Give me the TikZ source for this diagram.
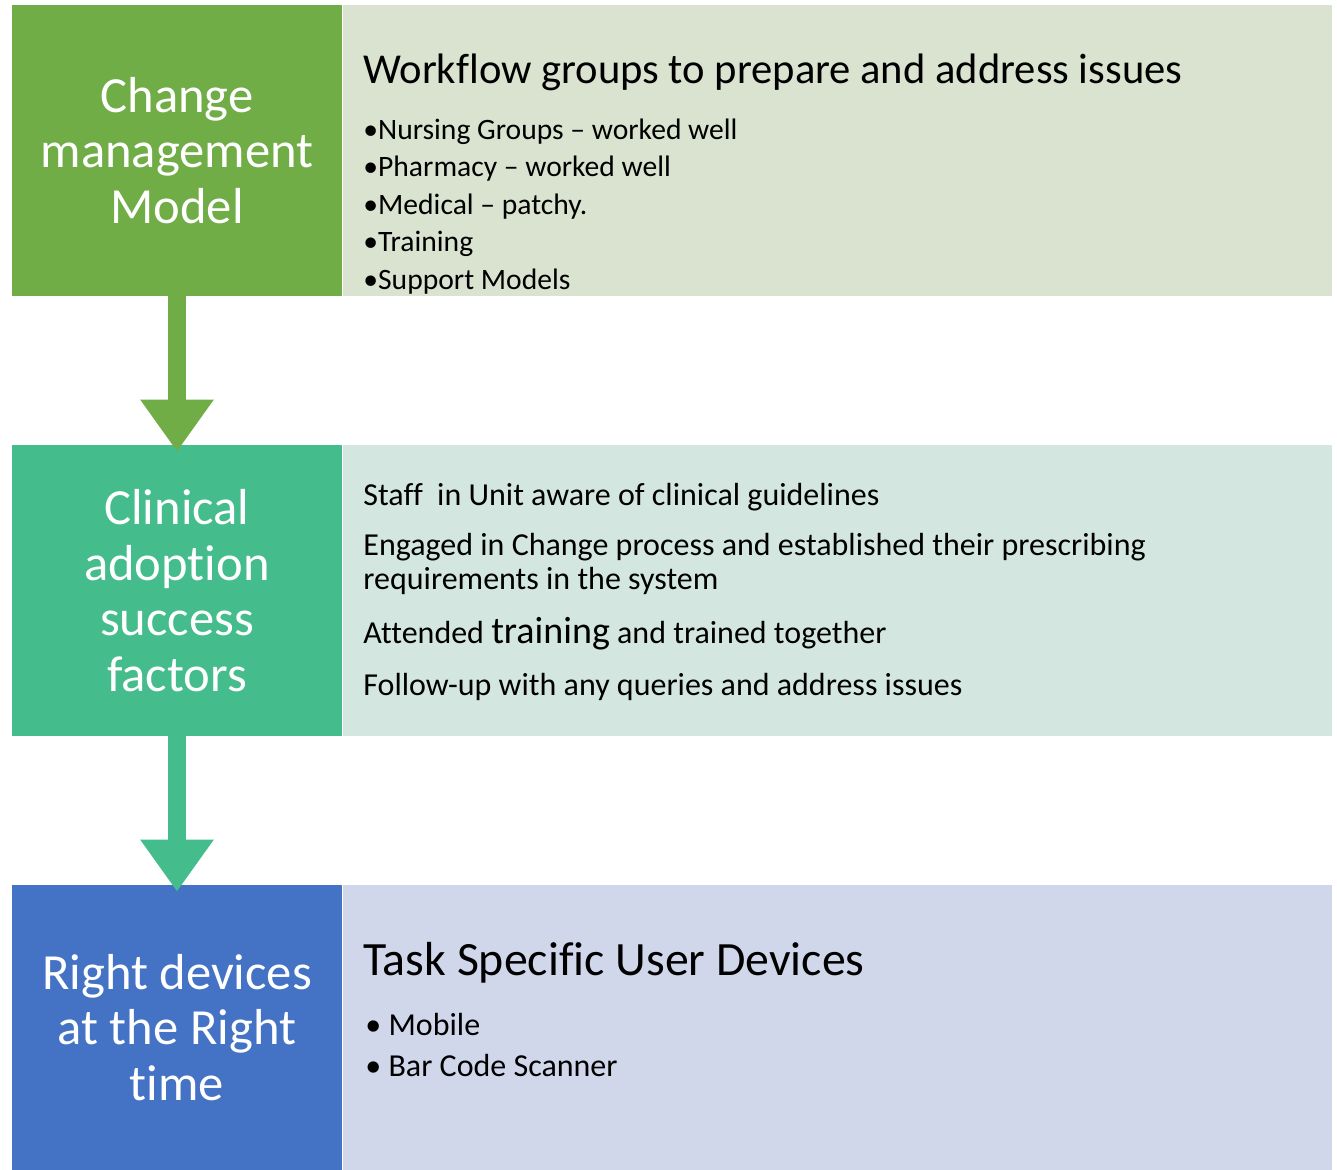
\documentclass[tikz,border=0pt]{standalone}
\usepackage{fontspec}
\setmainfont{Carlito}[Ligatures=CommonOff]
\usepackage{xcolor}
\usetikzlibrary{arrows.meta,positioning}

\definecolor{cmgreen}{RGB}{112,173,71}
\definecolor{cmgreenlight}{RGB}{217,227,208}
\definecolor{cateal}{RGB}{68,188,140}
\definecolor{catteallight}{RGB}{211,231,224}
\definecolor{rdblue}{RGB}{68,114,196}
\definecolor{rdbluelight}{RGB}{208,215,234}

\tikzset{
	stagebox/.style={minimum width=165pt, minimum height=145.5pt, inner sep=0pt, text=white, align=center,
		font=\fontsize{25.3}{27.75}\selectfont},
	infobox/.style={minimum width=494.5pt, minimum height=145.5pt, inner sep=0pt, anchor=west},
	stagearrow/.style={line width=9pt, -{Triangle[width=35pt,length=26pt]}, shorten >=-3.5pt},
	heading/.style={anchor=base west, inner sep=0pt, font=\fontsize{21.3}{25}\selectfont},
	bulletline/.style={anchor=base west, inner sep=0pt, font=\fontsize{14.8}{17}\selectfont},
	factline/.style={anchor=base west, inner sep=0pt, font=\fontsize{16}{19}\selectfont}
}

\begin{document}
\begin{tikzpicture}[x=0.5pt, y=-0.5pt]
	\useasboundingbox (0,0) rectangle (1337,1170);

	% stages on the left
	\node [stagebox, fill=cmgreen] (cm) at (177,150.5) {Change\\management\\Model};
	\node [stagebox, fill=cateal] (cas) at (177,590.5) {Clinical\\adoption\\success\\factors};
	\node [stagebox, fill=rdblue, minimum height=142.5pt] (rd) at (177,1027.5) {Right devices\\at the Right\\time};

	% panels on the right
	\node [infobox, fill=cmgreenlight] (cmpanel) at (cm.east) {};
	\node [infobox, fill=catteallight] (caspanel) at (cas.east) {};
	\node [infobox, fill=rdbluelight, minimum height=142.5pt] (rdpanel) at (rd.east) {};

	% arrows between stages
	\draw [stagearrow, cmgreen] (cm.south) -- (cas.north);
	\draw [stagearrow, cateal] (cas.south) -- (rd.north);

	% workflow groups
	\node [heading] (wf) at (363,84) {Workflow groups to prepare and address issues};
	\node [bulletline] (wf1) at (363,140) {\textbullet Nursing Groups -- worked well};
	\node [bulletline] (wf2) at (363,177) {\textbullet Pharmacy -- worked well};
	\node [bulletline] (wf3) at (363,215) {\textbullet Medical -- patchy.};
	\node [bulletline] (wf4) at (363,252) {\textbullet Training};
	\node [bulletline] (wf5) at (363,290) {\textbullet Support Models};

	% adoption factors
	\node [factline] (sf1) at (363,505) {Staff\ \ in Unit aware of clinical guidelines};
	\node [factline] (sf2) at (363,555) {Engaged in Change process and established their prescribing};
	\node [factline] (sf3) at (363,589) {requirements in the system};
	\node [factline] (sf4) at (363,643) {Attended {\fontsize{19}{22}\selectfont training} and trained together};
	\node [factline] (sf5) at (363,695) {Follow-up with any queries and address issues};

	% devices
	\node [heading, font=\fontsize{23.9}{28}\selectfont] (td) at (363,975) {Task Specific User Devices};
	\node [bulletline, font=\fontsize{16}{19}\selectfont] (td1) at (365,1035) {\textbullet\ Mobile};
	\node [bulletline, font=\fontsize{16}{19}\selectfont] (td2) at (365,1076) {\textbullet\ Bar Code Scanner};
\end{tikzpicture}
\end{document}
